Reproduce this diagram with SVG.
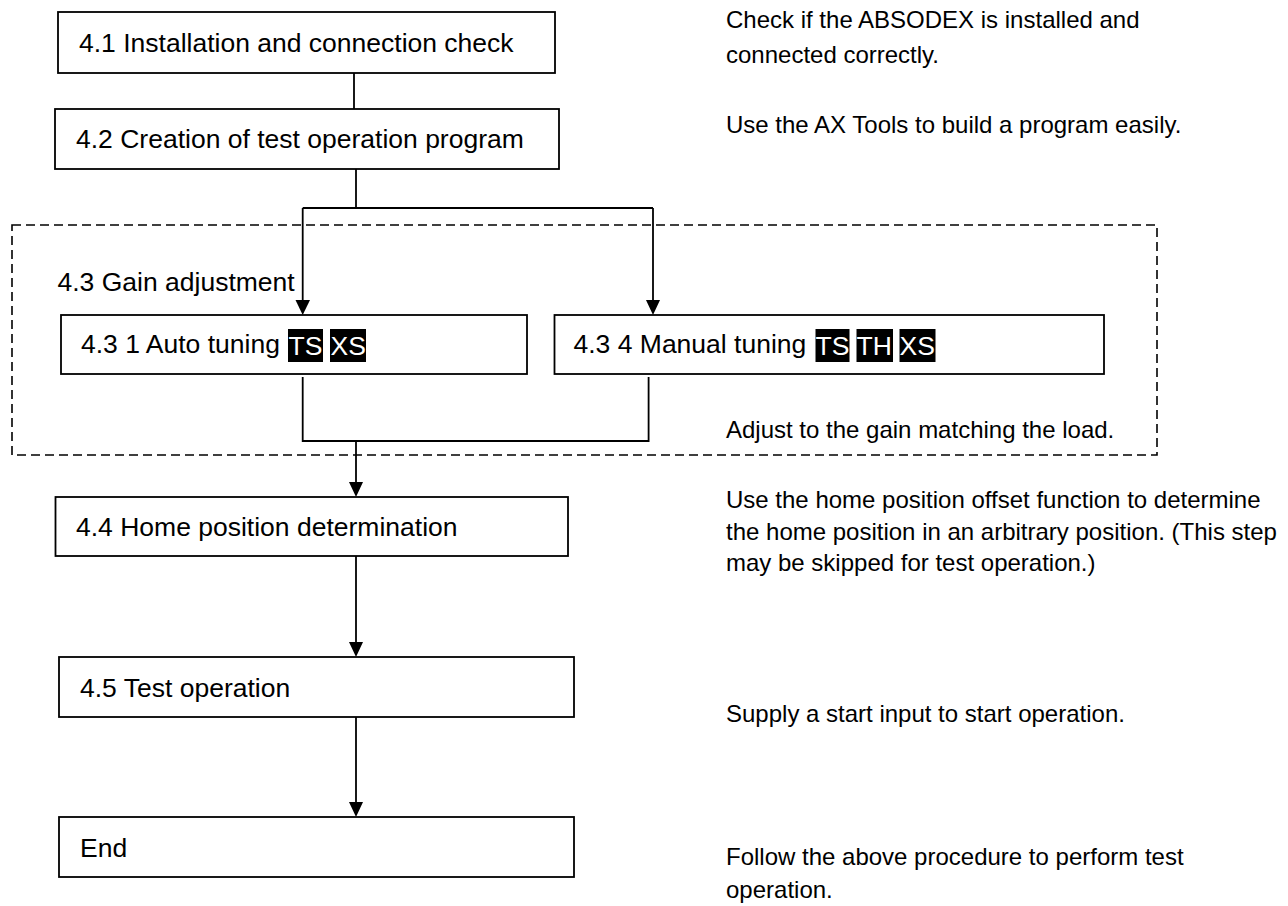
<svg xmlns="http://www.w3.org/2000/svg" width="1288" height="906" viewBox="0 0 1288 906">
<style>
.box{fill:#fff;stroke:#000;stroke-width:1.8}
.t{font-family:"Liberation Sans",Arial,sans-serif;font-size:26.5px;fill:#000}
.n{font-family:"Liberation Sans",Arial,sans-serif;font-size:24px;fill:#000}
.tag{fill:#000}
.tw{font-family:"Liberation Sans",Arial,sans-serif;font-size:26.5px;fill:#fff}
.c{fill:none;stroke:#000;stroke-width:1.8}
.grp{fill:none;stroke:#000;stroke-width:1.6;stroke-dasharray:9 5}
</style>
<defs>
<marker id="ah" markerUnits="userSpaceOnUse" markerWidth="16" markerHeight="16" viewBox="0 0 16 16" refX="8" refY="16" orient="auto-start-reverse">
<path d="M0,0 L16,0 L8,16 Z" fill="#000" transform="rotate(0)"/>
</marker>
</defs>
<rect id="gain-group" class="grp" x="12" y="225" width="1145" height="230"/>
<g id="connectors">
<line class="c" x1="354" y1="73" x2="354" y2="109"/>
<polyline class="c" points="356,169 356,208"/>
<line class="c" x1="302.7" y1="208" x2="653" y2="208"/>
<path d="M302.7,208 V300" class="c"/><polygon points="295.5,300 310,300 302.7,315"/>
<path d="M653,208 V300" class="c"/><polygon points="646,300 660,300 653,315"/>
<polyline class="c" points="302.7,377 302.7,441 648.6,441 648.6,377"/>
<path d="M356,441 V482" class="c"/><polygon points="349,482 363,482 356,497"/>
<path d="M356,556 V642" class="c"/><polygon points="349,642 363,642 356,657"/>
<path d="M356,717 V802" class="c"/><polygon points="349,802 363,802 356,817"/>
</g>
<g id="n41"><rect class="box" x="58" y="12" width="497" height="61"/><text class="t" x="79" y="52">4.1 Installation and connection check</text></g>
<g id="n42"><rect class="box" x="55" y="109" width="504" height="60"/><text class="t" x="76" y="148">4.2 Creation of test operation program</text></g>
<g id="n43label"><text class="t" x="57.5" y="291">4.3 Gain adjustment</text></g>
<g id="n431"><rect class="box" x="61" y="315" width="466" height="59"/><text class="t" x="81" y="353">4.3 1 Auto tuning</text>
<rect class="tag" x="288" y="329" width="35" height="33"/><text class="tw" x="288.5" y="355">TS</text>
<rect class="tag" x="330" y="329" width="36" height="33"/><text class="tw" x="330.5" y="355">XS</text></g>
<g id="n434"><rect class="box" x="554.5" y="315" width="549.5" height="59"/><text class="t" x="573.5" y="353">4.3 4 Manual tuning</text>
<rect class="tag" x="815.5" y="329" width="34" height="33"/><text class="tw" x="815.5" y="355">TS</text>
<rect class="tag" x="856.5" y="329" width="36.5" height="33"/><text class="tw" x="856.5" y="355">TH</text>
<rect class="tag" x="899.5" y="329" width="36" height="33"/><text class="tw" x="899.5" y="355">XS</text></g>
<g id="n44"><rect class="box" x="55.5" y="497" width="512.5" height="59"/><text class="t" x="76" y="536">4.4 Home position determination</text></g>
<g id="n45"><rect class="box" x="59" y="657" width="515" height="60"/><text class="t" x="80" y="697">4.5 Test operation</text></g>
<g id="nend"><rect class="box" x="59" y="817" width="515" height="60"/><text class="t" x="80" y="857">End</text></g>
<g id="notes">
<text class="n" x="726" y="28">Check if the ABSODEX is installed and</text>
<text class="n" x="726" y="63">connected correctly.</text>
<text class="n" x="726" y="133">Use the AX Tools to build a program easily.</text>
<text class="n" x="726" y="438">Adjust to the gain matching the load.</text>
<text class="n" x="726" y="508">Use the home position offset function to determine</text>
<text class="n" x="726" y="540">the home position in an arbitrary position. (This step</text>
<text class="n" x="726" y="571">may be skipped for test operation.)</text>
<text class="n" x="726" y="722">Supply a start input to start operation.</text>
<text class="n" x="726" y="865">Follow the above procedure to perform test</text>
<text class="n" x="726" y="898">operation.</text>
</g>
</svg>
